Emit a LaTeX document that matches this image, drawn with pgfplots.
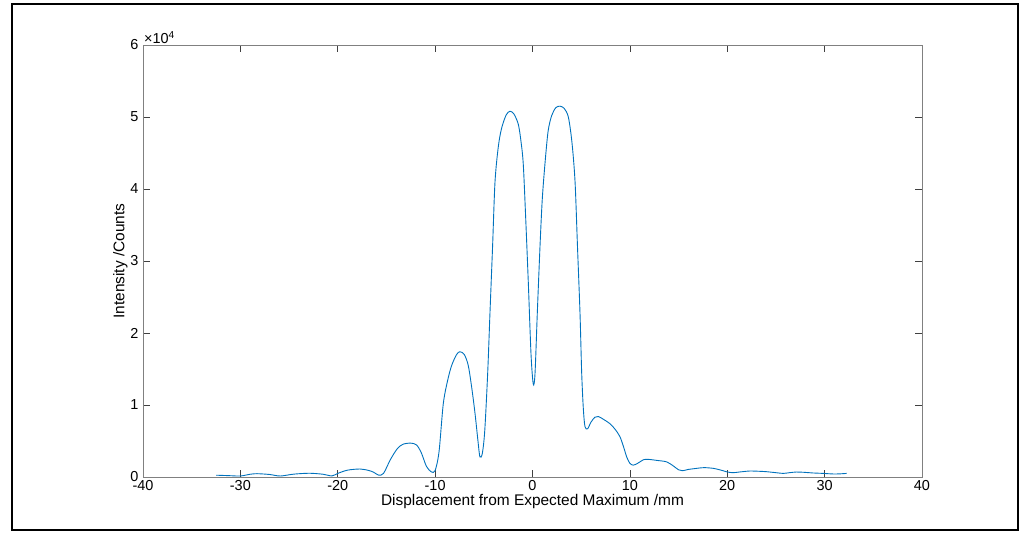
\documentclass[border=0pt]{standalone}
\usepackage{pgfplots}
\pgfplotsset{compat=1.18}
\usepackage{fontspec}
\setmainfont{Liberation Sans}
\definecolor{mblue}{rgb}{0,0.447,0.741}
\definecolor{axgray}{rgb}{0.5,0.5,0.5}
\begin{document}
\begin{tikzpicture}
\useasboundingbox (0,0) rectangle (1023bp,535bp);
\draw[line width=2bp] (12bp,5bp) rectangle (1018bp,531bp);
\begin{axis}[
  at={(143bp,58bp)}, anchor=south west,
  scale only axis, width=779bp, height=432bp,
  xmin=-40, xmax=40, ymin=0, ymax=60000,
  xtick={-40,-30,-20,-10,0,10,20,30,40},
  xticklabels={-40,-30,-20,-10,0,10,20,30,40},
  ytick={0,10000,20000,30000,40000,50000,60000},
  yticklabels={0,1,2,3,4,5,6},
  scaled y ticks=false,
  tick align=inside,
  major tick length=7bp,
  axis line style={axgray, line width=0.9bp},
  every tick/.style={black!75, line width=0.6bp},
  tick label style={font=\fontsize{14.5}{16}\selectfont},
  xticklabel style={yshift=0bp},
  yticklabel style={xshift=-1bp},
  xlabel={Displacement from Expected Maximum /mm},
  ylabel={Intensity /Counts},
  label style={font=\fontsize{15.5}{17}\selectfont},
  xlabel style={yshift=3bp},
  ylabel style={yshift=-4bp},
  clip=false,
]
\addplot[mblue, line width=0.9bp, smooth, tension=0.5] coordinates {
(-32.5,250) (-31.2,190) (-30.0,140) (-29.0,380) (-28.3,460) (-27.0,350) (-25.9,140)
(-24.5,400) (-22.9,520) (-21.5,380) (-20.6,150) (-20.0,500) (-19.0,950)
(-17.7,1110) (-16.8,900) (-16.3,650) (-15.8,260) (-15.3,500) (-14.6,2400)
(-13.9,3900) (-13.3,4550) (-12.5,4700) (-11.9,4450) (-11.4,3300) (-10.9,1500)
(-10.4,720) (-10.0,900) (-9.6,3500) (-9.16,10200) (-8.7,13500) (-8.3,15500)
(-7.8,17000) (-7.45,17400) (-7.0,17000) (-6.6,15500) (-6.25,12500) (-5.9,8800)
(-5.6,5000) (-5.4,2800) (-5.15,3300) (-4.9,6500) (-4.6,14500) (-4.37,22700)
(-4.1,32000) (-3.85,41000) (-3.5,46000) (-3.16,48500) (-2.7,50300) (-2.31,50800)
(-1.9,50400) (-1.46,49000) (-1.2,46800) (-0.95,43500) (-0.7,36000) (-0.43,27000)
(-0.15,17000) (0.08,12900) (0.26,14400) (0.5,23000) (0.77,32000) (1.0,38500)
(1.28,43500) (1.6,48000) (1.97,50200) (2.4,51300) (2.82,51500) (3.25,51200)
(3.68,50000) (4.05,46500) (4.37,41000) (4.62,32000) (4.88,22700) (5.05,14500)
(5.22,9500) (5.39,7000) (5.66,6700) (6.0,7600) (6.4,8300) (6.76,8400)
(7.3,8000) (7.96,7400) (8.5,6600) (8.98,5600) (9.35,4200) (9.67,2800)
(10.0,1900) (10.35,1650) (10.8,1900) (11.4,2400) (11.9,2450) (12.8,2300)
(13.78,2100) (14.5,1500) (15.0,1000) (15.4,870) (16.0,1050) (16.86,1200)
(17.6,1300) (18.57,1200) (19.5,900) (20.0,700) (20.6,600) (21.3,700)
(22.3,830) (23.2,800) (24.0,740) (25.0,600) (25.75,500) (26.4,600)
(27.1,690) (27.9,650) (28.8,560) (29.86,500) (30.9,420) (31.6,440) (32.26,500)
};
\node[anchor=south west, font=\fontsize{14.5}{16}\selectfont, inner sep=1bp] at (rel axis cs:0,1) {×10\textsuperscript{4}};
\end{axis}
\end{tikzpicture}
\end{document}
